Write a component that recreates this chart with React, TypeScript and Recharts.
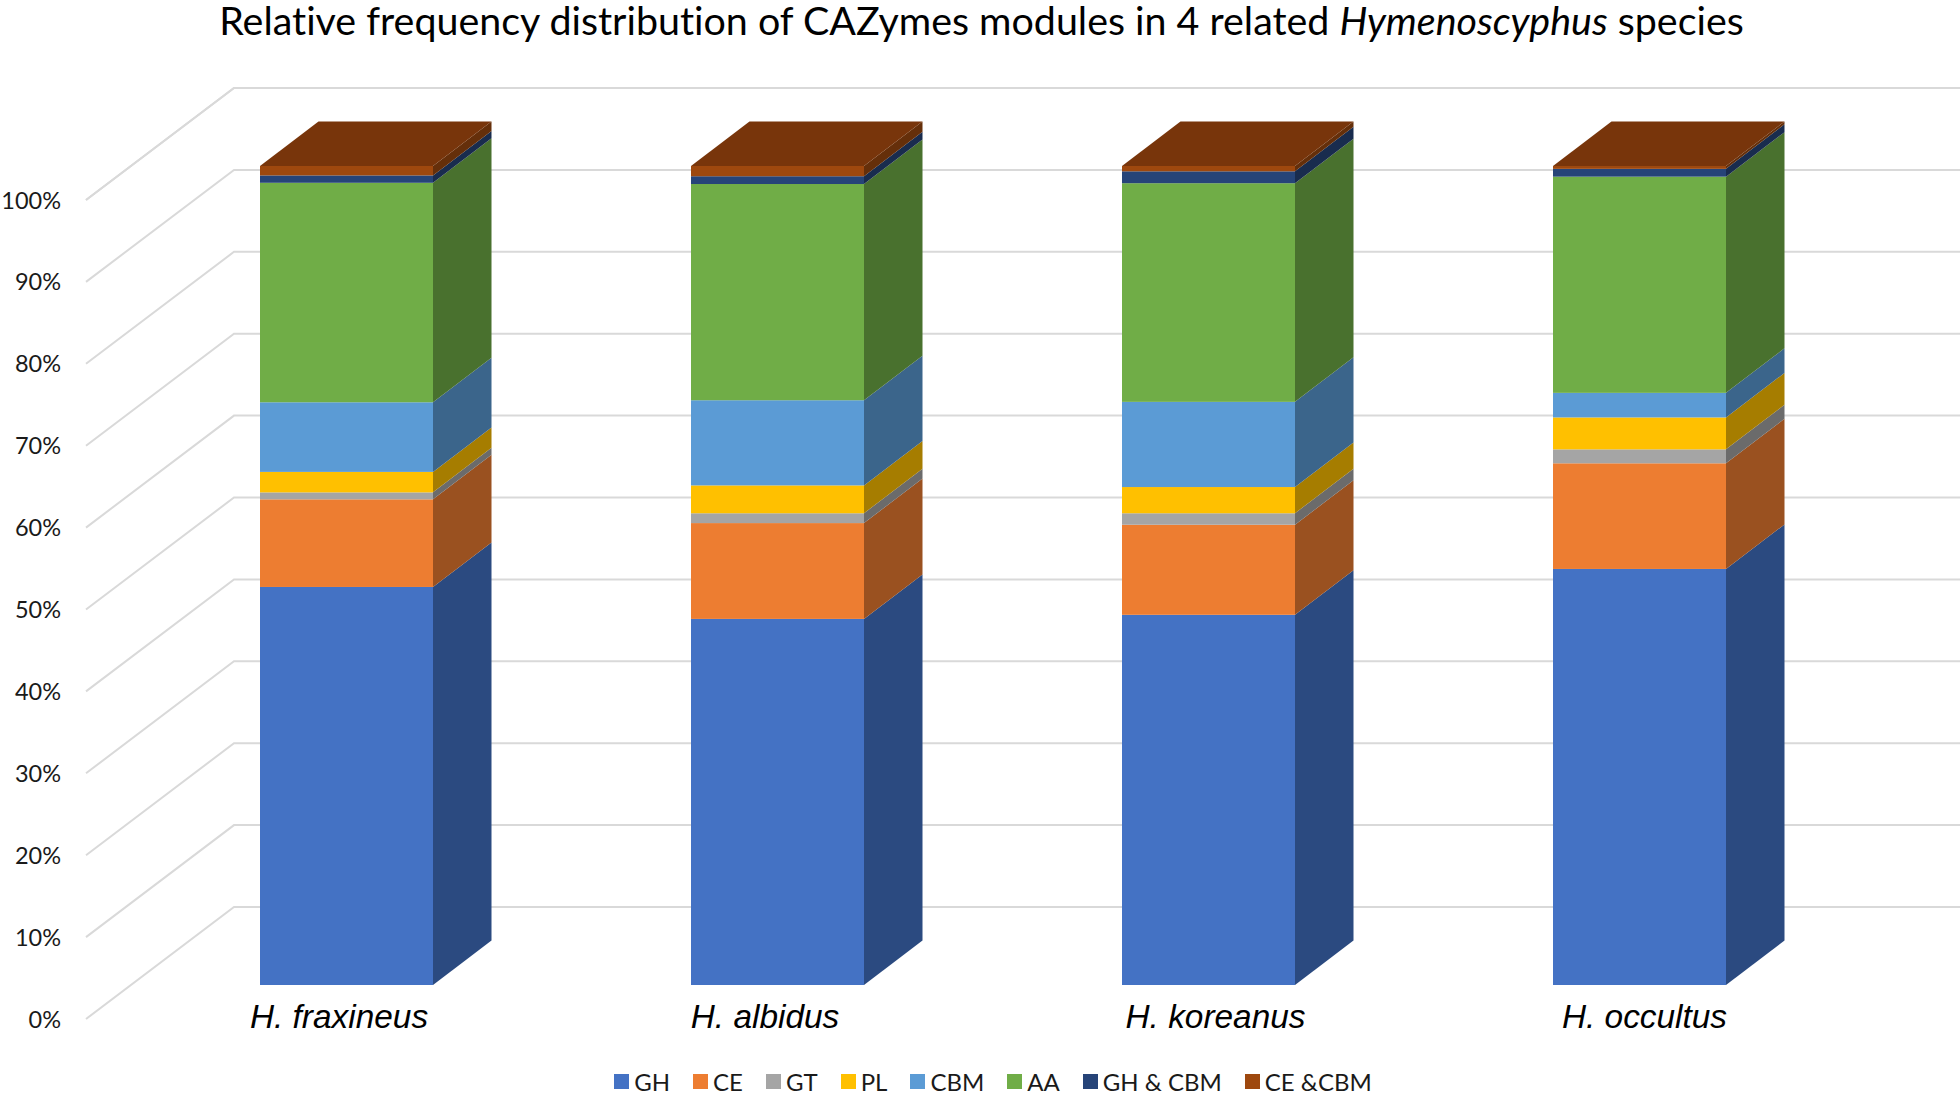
import React from "react";
import { BarChart, Bar, XAxis, YAxis, CartesianGrid, Legend } from "recharts";

const species = ["H. fraxineus", "H. albidus", "H. koreanus", "H. occultus"];
const gh = [48.6, 44.7, 45.2, 50.8];
const ce = [10.7, 11.7, 11.0, 12.9];
const gt = [0.85, 1.2, 1.4, 1.7];
const pl = [2.5, 3.4, 3.2, 3.9];
const cbm = [8.5, 10.4, 10.4, 3.0];
const aa = [26.8, 26.4, 26.7, 26.4];
const ghCbm = [0.9, 0.95, 1.45, 0.95];
const ceCbm = [1.15, 1.25, 0.65, 0.35];
const yTicks = [0, 10, 20, 30, 40, 50, 60, 70, 80, 90, 100];

const seriesNames = ["GH", "CE", "GT", "PL", "CBM", "AA", "GH & CBM", "CE &CBM"];
const seriesValues = [gh, ce, gt, pl, cbm, aa, ghCbm, ceCbm];
const frontColors = ["#4472C4", "#ED7D31", "#A5A5A5", "#FFC000", "#5B9BD5", "#70AD47", "#264478", "#9E480E"];
const sideColors = ["#2B4A80", "#9A5120", "#6B6B6B", "#A67D00", "#3B658B", "#49712E", "#192C4E", "#652F0A"];
const TOP_COLOR = "#78350B";

const table = species.map((name, i) => {
  const row: Record<string, string | number> = { name };
  seriesNames.forEach((s, j) => { row[s] = seriesValues[j][i]; });
  return row;
});

const DX = 58.5;
const DY = 44.5;
const labelNudge = [-7.5, -12.5, 7, 5];
const SANS = "Lato, 'Noto Sans', sans-serif";

function Box3D(props: any, idx: number) {
  const { x, y, width, height } = props;
  const r = x + width;
  const b = y + height;
  return (
    <g>
      <rect x={x} y={y} width={width} height={height} fill={frontColors[idx]} />
      <polygon
        points={`${r},${y} ${r + DX},${y - DY} ${r + DX},${b - DY} ${r},${b}`}
        fill={sideColors[idx]}
      />
      {idx === seriesNames.length - 1 && (
        <polygon
          points={`${x},${y} ${x + DX},${y - DY} ${r + DX},${y - DY} ${r},${y}`}
          fill={TOP_COLOR}
        />
      )}
    </g>
  );
}

function GridLine(p: any) {
  const y = p.y1;
  return (
    <polyline
      key={p.key ?? y}
      points={`86,${y + 34} 234,${y - 78} 1960,${y - 78}`}
      fill="none"
      stroke="#D9D9D9"
      strokeWidth={2}
    />
  );
}

function YTick(p: any) {
  return (
    <text x={61} y={p.y + 34} dy={8.5} textAnchor="end" fontFamily={SANS} fontSize={23.5} fill="#1a1a1a">
      {p.payload.value}%
    </text>
  );
}

function XTick(p: any) {
  return (
    <text
      x={p.x + labelNudge[p.index]}
      y={1028}
      textAnchor="middle"
      fontFamily="'Liberation Sans', Arial, sans-serif"
      fontStyle="italic"
      fontSize={33.4}
      fill="#000"
    >
      {p.payload.value}
    </text>
  );
}

function LegendRow(props: any) {
  return (
    <div
      style={{
        position: "absolute",
        left: 0,
        top: 1067,
        width: 1986,
        height: 29,
        display: "flex",
        justifyContent: "center",
        alignItems: "center",
        gap: 23,
        fontFamily: SANS,
        fontSize: 24,
        lineHeight: "29px",
        color: "#1a1a1a",
      }}
    >
      {props.payload.map((e: any) => (
        <div key={e.value} style={{ display: "flex", alignItems: "center", gap: 5, whiteSpace: "pre" }}>
          <span style={{ width: 15, height: 15, background: e.color, display: "inline-block" }} />
          <span>{e.value}</span>
        </div>
      ))}
    </div>
  );
}

export default function App() {
  return (
    <div style={{ position: "absolute", left: 0, top: 0, width: 1960, height: 1096, background: "#fff", overflow: "hidden" }}>
      <div
        style={{
          position: "absolute",
          left: 0,
          top: 0,
          width: 1963,
          textAlign: "center",
          fontFamily: SANS,
          fontSize: 39.4,
          lineHeight: "40px",
          fontVariantLigatures: "none",
          color: "#000",
          whiteSpace: "pre",
        }}
      >
        Relative frequency distribution of CAZymes modules in 4 related <i>Hymenoscyphus</i> species
      </div>
      <BarChart
        width={1960}
        height={1096}
        data={table}
        margin={{ top: 166, right: 105, bottom: 51, left: 0 }}
        barSize={173}
      >
        <CartesianGrid vertical={false} horizontal={GridLine as any} />
        <XAxis dataKey="name" height={60} axisLine={false} tickLine={false} interval={0} tick={XTick as any} />
        <YAxis width={131} domain={[0, 100]} ticks={yTicks} axisLine={false} tickLine={false} interval={0} tick={YTick as any} />
        <Legend
          content={LegendRow as any}
          itemSorter={null as any}
          wrapperStyle={{ left: 0, top: 0, width: 0, height: 0 }}
        />
        {seriesNames.map((s, i) => (
          <Bar
            key={s}
            dataKey={s}
            stackId="a"
            fill={frontColors[i]}
            isAnimationActive={false}
            shape={(p: any) => Box3D(p, i)}
          />
        ))}
      </BarChart>
    </div>
  );
}
